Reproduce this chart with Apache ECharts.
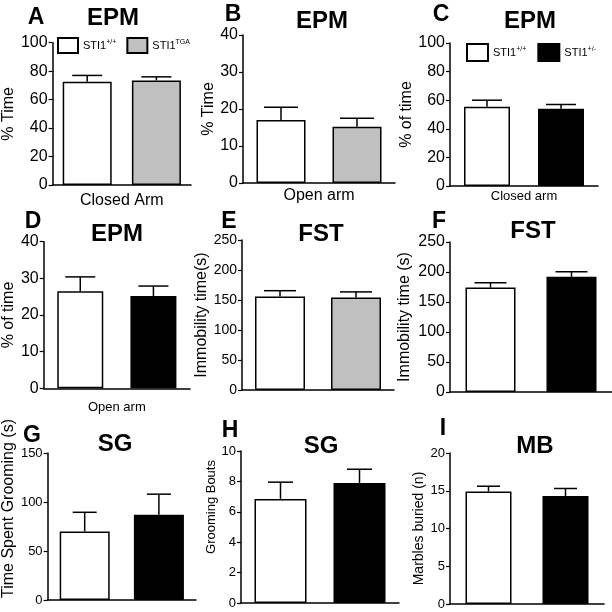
<!DOCTYPE html>
<html><head><meta charset="utf-8">
<script src="https://cdn.jsdelivr.net/npm/echarts@6/dist/echarts.min.js"></script>
<style>html,body{margin:0;padding:0;background:#fff}#c{width:612px;height:612px}</style>
</head><body><div id="c"></div>
<script>
// ---- data ----
const letters = ['A','B','C','D','E','F','G','H','I'];
const titles = ['EPM','EPM','EPM','EPM','FST','FST','SG','SG','MB'];
const yNames = ['% Time','% Time','% of time','% of time','Immobility time(s)','Immobility time (s)','Time Spent Grooming (s)','Grooming Bouts','Marbles buried (n)'];
const xNames = ['Closed Arm','Open arm','Closed arm','Open arm','','','','',''];
const yMax = [100,40,100,40,250,250,150,10,20];
const yStep = [20,10,20,10,50,50,50,2,5];
const wtName = 'STI1+/+';
const mutNames = ['STI1TGA','STI1TGA','STI1+/-','STI1+/-','STI1TGA','STI1+/-','STI1+/-','STI1+/-','STI1+/-'];
const wtMeans = [72.5,17,55.5,26.5,156,174,70,6.85,14.9];
const wtSEM = [4.5,3.5,4.5,3.9,9.5,8,19.5,1.1,0.7];
const mutMeans = [73.5,15.2,54,25.2,154,192,87,7.9,14.3];
const mutSEM = [2.5,2.3,3,2.7,9.5,8.5,21,0.9,1.0];
const categories = ['WT','MUT'];

// ---- layout / style ----
const FONT = '"Liberation Sans", Arial, sans-serif';
const colorOf = {'STI1+/+':'#ffffff','STI1TGA':'#c0c0c0','STI1+/-':'#000000'};
const L = [
 {l:42, t:42.7, w:149, h:142.3, bw:49, cap:30, fs:16, yGap:21, xGap:8, xfs:16, yfs:16, yShift:0,
  title:[113,6], letter:[36,6]},
 {l:243, t:35, w:152, h:148, bw:49, cap:34, fs:16, yGap:25, xGap:5, xfs:16, yfs:16, yShift:0,
  title:[322,9], letter:[233,3]},
 {l:450, t:43, w:148, h:143, bw:46, cap:30, fs:16, yGap:24, xGap:4, xfs:13, yfs:16, yShift:0,
  title:[530,9], letter:[441,3]},
 {l:42, t:241.7, w:148, h:146.6, bw:46, cap:30, fs:16, yGap:19, xGap:13, xfs:13, yfs:16, yShift:0,
  title:[117,222], letter:[33,210]},
 {l:242, t:240, w:152, h:150, bw:50, cap:32, fs:14, yGap:27, xGap:8, xfs:13, yfs:16, yShift:0,
  title:[321,222], letter:[229,210]},
 {l:450, t:242, w:162, h:150, bw:50, cap:32, fs:16, yGap:37, xGap:8, xfs:13, yfs:16, yShift:0,
  title:[533,219], letter:[439,210]},
 {l:42, t:453, w:154, h:147, bw:50, cap:24, fs:13, yGap:18, xGap:8, xfs:13, yfs:16, yShift:36,
  title:[115,432], letter:[32,424]},
 {l:241, t:451, w:158, h:152, bw:52, cap:25, fs:13, yGap:16, xGap:8, xfs:13, yfs:13, yShift:40,
  title:[321,434], letter:[230,419]},
 {l:450, t:453, w:154, h:151, bw:46, cap:23, fs:13, yGap:19, xGap:8, xfs:13, yfs:14, yShift:0,
  title:[535,434], letter:[443,417]}
];

const grid=[], xAxis=[], yAxis=[], series=[], title=[];
L.forEach((g,i)=>{
  grid.push({left:g.l, top:g.t, width:g.w, height:g.h, containLabel:false});
  xAxis.push({type:'category', gridIndex:i, data:categories,
    axisLine:{lineStyle:{color:'#000', width:1.5}}, axisTick:{show:false}, axisLabel:{show:false},
    name:xNames[i], nameLocation:'middle', nameGap:g.xGap,
    nameTextStyle:{color:'#000', fontSize:g.xfs, fontFamily:FONT, verticalAlign:'top'}});
  yAxis.push({type:'value', gridIndex:i, min:0, max:yMax[i], interval:yStep[i],
    axisLine:{show:true, lineStyle:{color:'#000', width:1.5}},
    axisTick:{show:true, length:4, lineStyle:{color:'#000', width:1.2}},
    axisLabel:{color:'#000', fontSize:g.fs, fontFamily:FONT, margin:5},
    splitLine:{show:false},
    name:yNames[i], nameLocation:'middle', nameGap:g.yGap,
    nameTextStyle:{color:'#000', fontSize:g.yfs, fontFamily:FONT, padding:[0,0,0,g.yShift]}});
  const mk=(name,data)=>({type:'bar', name, xAxisIndex:i, yAxisIndex:i, data,
    barWidth:g.bw, barGap:'-100%',
    itemStyle:{color:colorOf[name], borderColor:'#000', borderWidth:1.5}, emphasis:{disabled:true}});
  series.push(mk(wtName,[wtMeans[i],'-']));
  series.push(mk(mutNames[i],['-',mutMeans[i]]));
  const cap=g.cap;
  series.push({type:'custom', xAxisIndex:i, yAxisIndex:i, z:5, silent:true,
    data:[[0,wtMeans[i],wtSEM[i]],[1,mutMeans[i],mutSEM[i]]],
    renderItem:(p,api)=>{
      const x=api.value(0), m=api.value(1), e=api.value(2);
      const a=api.coord([x,m]), b=api.coord([x,m+e]);
      const st={stroke:'#000', lineWidth:1.5};
      return {type:'group', children:[
        {type:'line', shape:{x1:a[0],y1:a[1],x2:b[0],y2:b[1]}, style:st},
        {type:'line', shape:{x1:b[0]-cap/2,y1:b[1],x2:b[0]+cap/2,y2:b[1]}, style:st}]};
    }});
  title.push({text:titles[i], left:g.title[0], top:g.title[1], textAlign:'center', padding:0,
    textStyle:{fontSize:24, fontWeight:'bold', color:'#000', fontFamily:FONT}});
  title.push({text:letters[i], left:g.letter[0], top:g.letter[1], textAlign:'center', padding:0,
    textStyle:{fontSize:23, fontWeight:'bold', color:'#000', fontFamily:FONT}});
});

const legendBase = {selectedMode:false, icon:'rect', orient:'horizontal', padding:0,
  formatter:n=>'STI1{s|'+n.slice(4)+'}',
  textStyle:{fontSize:11, color:'#000', fontFamily:FONT,
    rich:{s:{fontSize:7, fontFamily:FONT, color:'#000', padding:[0,0,7,0]}}}};
const legend = [
  Object.assign({}, legendBase, {data:[wtName,'STI1TGA'], left:57, top:37, itemWidth:20, itemHeight:15, itemGap:10}),
  Object.assign({}, legendBase, {data:[wtName,'STI1+/-'], left:466, top:43, itemWidth:21, itemHeight:17, itemGap:11})
];

const chart = echarts.init(document.getElementById('c'), null, {renderer:'canvas'});
chart.setOption({animation:false, backgroundColor:'#fff', grid, xAxis, yAxis, series, title, legend});
</script></body></html>
